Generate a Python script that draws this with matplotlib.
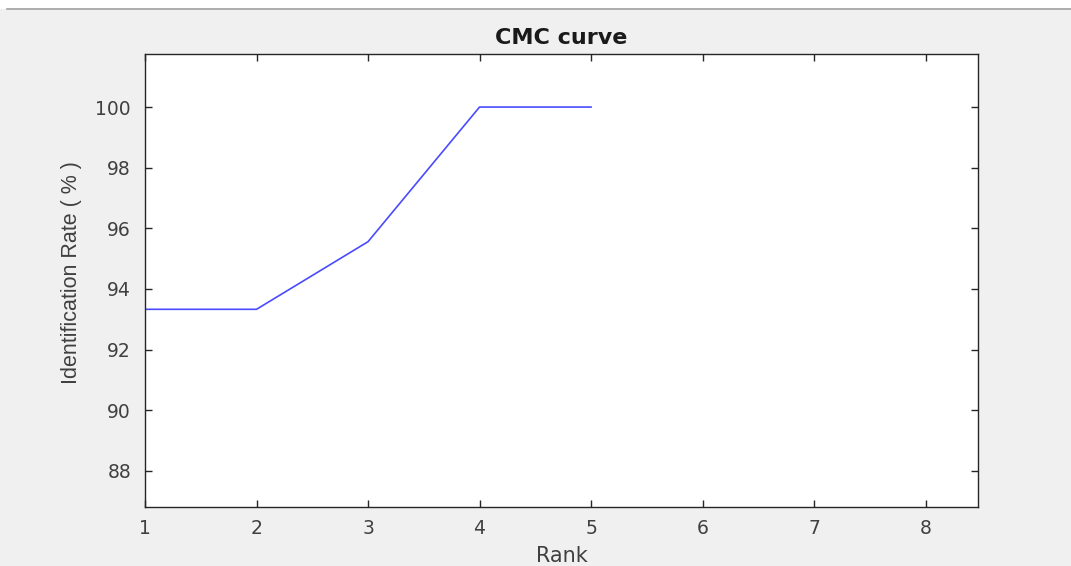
import matplotlib.pyplot as plt
from matplotlib.patches import Rectangle
from matplotlib.lines import Line2D

rank = [1, 2, 3, 4, 5]
ident_rate = [93.33, 93.33, 95.56, 100.0, 100.0]
x_ticks = [1, 2, 3, 4, 5, 6, 7, 8]
y_ticks = [88, 90, 92, 94, 96, 98, 100]

W, H = 1071, 566
fig = plt.figure(figsize=(W / 100, H / 100), dpi=100, facecolor="#f0f0f0")

# white strip and gray rule at the top (window chrome)
fig.add_artist(Rectangle((0, 1 - 9 / H), 1, 9 / H, transform=fig.transFigure,
                         facecolor="white", edgecolor="none"))
fig.add_artist(Line2D([7 / W, 1], [1 - 9 / H, 1 - 9 / H], transform=fig.transFigure,
                      color="#a0a0a0", lw=1.2))

ax = fig.add_axes([145 / W, 1 - 507 / H, (978 - 145) / W, (507 - 54) / H])
ax.set_facecolor("white")
ax.plot(rank, ident_rate, color="#4a4aff", lw=1.2)

ax.set_xlim(1, 8.47)
ax.set_ylim(86.81, 101.75)
ax.set_xticks(x_ticks)
ax.set_yticks(y_ticks)
ax.tick_params(direction="in", length=5, width=1, colors="#262626",
               labelsize=13.5, top=True, right=True)
ax.tick_params(axis="x", pad=9)
ax.tick_params(axis="y", pad=10)
for lab in ax.get_xticklabels() + ax.get_yticklabels():
    lab.set_fontfamily("DejaVu Sans")
    lab.set_color("#404040")
for s in ax.spines.values():
    s.set_color("#262626")
    s.set_linewidth(1)

ax.set_title("CMC curve", fontsize=16, fontweight="bold", family="DejaVu Sans",
             color="#1a1a1a", pad=7)
ax.set_xlabel("Rank", fontsize=15, family="DejaVu Sans", color="#404040")
ax.xaxis.set_label_coords(0.5, -0.085)
ax.set_ylabel("Identification Rate ( % )", fontsize=15.5,
              family="Liberation Sans", color="#404040")
ax.yaxis.set_label_coords(-0.076, 0.518)

fig.savefig("out.png", dpi=100, facecolor=fig.get_facecolor())
